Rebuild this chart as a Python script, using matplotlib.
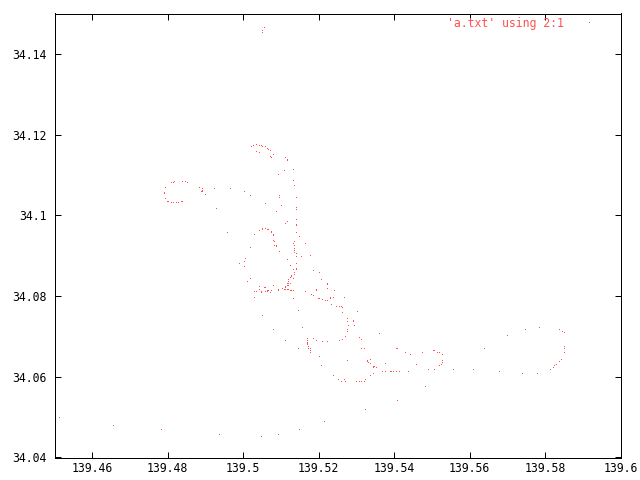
import matplotlib
matplotlib.use("Agg")
import matplotlib.pyplot as plt

lon_north = [139.5054,139.5051,139.5049,
 139.5022,139.5027,139.5033,139.5035,139.5041,139.5046,139.5051,139.5057,139.5062,139.5067,
 139.5070,139.5033,139.5041,139.5080,139.5072,139.5075,139.5110,139.5115,139.5117,139.5117,
 139.5131,139.5107,139.5091,139.5133,139.5136,139.4924,139.4966,139.5001,139.4890,139.4887,
 139.4892,139.4900,139.5019,139.5094,139.5094,139.5141,139.5057,139.5099,139.5139,139.5139,
 139.4929,139.5086,139.5141,139.5115,139.5112,139.5141,139.5141,139.5051,139.5049,139.5043,
 139.5059,139.5062,139.5067,139.5075,139.5075,139.4958,139.5141,139.5078,139.5078,139.5030,
 139.5149,139.5080,139.5083,139.5136,139.5131,139.5165,139.5083,139.5086,139.5086,139.5136,
 139.5019,139.5136,139.5136,139.5096,139.5136,139.5139,139.5178,139.5139,139.5152,139.5004,
 139.5001,139.5115,139.4990,139.5139,139.5125,139.5001,139.5133,139.5141,139.5141,139.5184,
 139.5200,139.5136,139.5136,139.5128,139.5128,139.5123,139.5131,139.5019,139.5120,139.5205]
lat_north = [34.1464,34.1456,34.1452,
 34.1169,34.1171,34.1174,34.1174,34.1171,34.1171,34.1169,34.1169,34.1164,34.1161,
 34.1159,34.1156,34.1154,34.1149,34.1144,34.1142,34.1142,34.1137,34.1137,34.1134,
 34.1112,34.1109,34.1099,34.1084,34.1072,34.1065,34.1065,34.1057,34.1060,34.1057,
 34.1057,34.1050,34.1047,34.1047,34.1042,34.1042,34.1027,34.1022,34.1018,34.1013,
 34.1015,34.1008,34.0988,34.0983,34.0978,34.0975,34.0973,34.0965,34.0963,34.0960,
 34.0965,34.0963,34.0963,34.0958,34.0956,34.0956,34.0956,34.0951,34.0948,34.0951,
 34.0946,34.0936,34.0933,34.0933,34.0928,34.0928,34.0923,34.0923,34.0921,34.0923,
 34.0918,34.0916,34.0911,34.0908,34.0906,34.0903,34.0898,34.0896,34.0896,34.0891,
 34.0884,34.0889,34.0879,34.0879,34.0874,34.0871,34.0864,34.0866,34.0864,34.0861,
 34.0856,34.0856,34.0851,34.0849,34.0846,34.0844,34.0841,34.0841,34.0839,34.0839]

lon_mid = [139.5009,139.5120,139.5117,139.5120,139.5123,139.5221,139.5223,139.5120,139.5078,139.5115,
 139.5043,139.5054,139.5057,139.5112,139.5110,139.5223,139.5102,139.5104,139.5043,139.5091,
 139.5091,139.5107,139.5110,139.5117,139.5120,139.5192,139.5194,139.5242,139.5125,139.5128,
 139.5131,139.5030,139.5035,139.5046,139.5046,139.5059,139.5064,139.5064,139.5067,139.5070,
 139.5075,139.5163,139.5181,139.5184,139.5186,139.5030,139.5133,139.5197,139.5200,139.5229,
 139.5231,139.5239,139.5266,139.5210,139.5218,139.5223,139.5234,139.5245,139.5255,139.5258,
 139.5263,139.5144,139.5303,139.5261,139.5051,139.5274,139.5276,139.5290,139.5290,139.5279,
 139.5295,139.5157,139.5276,139.5078,139.5274,139.5359,139.5271,139.5308,139.5311,139.5168,
 139.5184,139.5168,139.5192,139.5261,139.5255,139.5112,139.5210,139.5221,139.5170,139.5170,
 139.5170,139.5173,139.5173,139.5176,139.5176,139.5178,139.5144]
lat_mid = [34.0834,34.0834,34.0829,34.0829,34.0829,34.0829,34.0827,34.0824,34.0824,34.0824,
 34.0822,34.0819,34.0819,34.0822,34.0819,34.0817,34.0817,34.0817,34.0814,34.0814,
 34.0812,34.0814,34.0814,34.0814,34.0814,34.0814,34.0812,34.0812,34.0812,34.0812,
 34.0812,34.0809,34.0809,34.0809,34.0807,34.0809,34.0812,34.0809,34.0812,34.0807,
 34.0812,34.0809,34.0802,34.0799,34.0799,34.0794,34.0792,34.0792,34.0792,34.0794,
 34.0792,34.0794,34.0794,34.0789,34.0787,34.0787,34.0779,34.0772,34.0774,34.0772,
 34.0770,34.0762,34.0760,34.0757,34.0750,34.0742,34.0735,34.0737,34.0735,34.0727,
 34.0727,34.0720,34.0717,34.0717,34.0710,34.0705,34.0698,34.0695,34.0690,34.0693,
 34.0693,34.0688,34.0688,34.0690,34.0688,34.0688,34.0685,34.0685,34.0683,34.0680,
 34.0678,34.0673,34.0670,34.0668,34.0663,34.0660,34.0668]

lon_south = [139.5311,139.5319,139.5404,139.5409,139.5428,139.5430,139.5202,139.5276,139.5327,139.5329,
 139.5332,139.5335,139.5335,139.5375,139.5205,139.5345,139.5348,139.5345,139.5351,139.5369,
 139.5375,139.5388,139.5393,139.5398,139.5404,139.5412,139.5414,139.5438,139.5345,139.5343,
 139.5337,139.5237,139.5250,139.5258,139.5266,139.5271,139.5298,139.5308,139.5311,139.5319,
 139.5324]
lat_south = [34.0668,34.0668,34.0668,34.0668,34.0660,34.0658,34.0650,34.0638,34.0638,34.0636,
 34.0633,34.0631,34.0641,34.0631,34.0626,34.0623,34.0623,34.0621,34.0621,34.0613,
 34.0613,34.0613,34.0613,34.0611,34.0611,34.0611,34.0611,34.0611,34.0608,34.0606,
 34.0601,34.0601,34.0591,34.0588,34.0591,34.0588,34.0586,34.0586,34.0586,34.0588,
 34.0591]

lon_east = [139.5698,139.5746,139.5785,139.5838,139.5846,139.5849,139.5849,139.5849,139.5849,139.5841,
 139.5836,139.5830,139.5825,139.5820,139.5812,139.5780,139.5738,139.5679,139.5637,139.5610,
 139.5557,139.5443,139.5475,139.5502,139.5507,139.5515,139.5518,139.5528,139.5528,139.5526,
 139.5523,139.5520,139.5507,139.5491,139.5459,139.5481]
lat_east = [34.0700,34.0715,34.0720,34.0717,34.0710,34.0708,34.0673,34.0668,34.0660,34.0641,
 34.0636,34.0628,34.0626,34.0621,34.0618,34.0608,34.0608,34.0611,34.0668,34.0618,
 34.0618,34.0653,34.0660,34.0663,34.0663,34.0660,34.0660,34.0653,34.0638,34.0633,
 34.0628,34.0626,34.0618,34.0616,34.0628,34.0574]

lon_west = [139.4810,139.4815,139.4818,139.4837,139.4845,139.4852,139.4794,139.4882,139.4789,139.4789,
 139.4794,139.4799,139.4802,139.4810,139.4815,139.4823,139.4826,139.4834,139.4837,139.4890]
lat_west = [34.1080,34.1080,34.1082,34.1082,34.1082,34.1080,34.1067,34.1067,34.1055,34.1052,
 34.1040,34.1032,34.1032,34.1030,34.1030,34.1030,34.1030,34.1032,34.1032,34.1065]

lon_low = [139.4513,139.4656,139.4781,139.4935,139.5046,139.5091,139.5147,139.5213,139.5322,139.5409]
lat_low = [34.0497,34.0477,34.0467,34.0455,34.0450,34.0455,34.0469,34.0489,34.0517,34.0539]

lon = lon_north + lon_mid + lon_south + lon_east + lon_west + lon_low
lat = lat_north + lat_mid + lat_south + lat_east + lat_west + lat_low

x_ticks = [139.46, 139.48, 139.5, 139.52, 139.54, 139.56, 139.58, 139.6]
x_labels = ["139.46", "139.48", "139.5", "139.52", "139.54", "139.56", "139.58", "139.6"]
y_ticks = [34.04, 34.06, 34.08, 34.1, 34.12, 34.14]
y_labels = ["34.04", "34.06", "34.08", "34.1", "34.12", "34.14"]
series_label = "'a.txt' using 2:1"

RED = "#ff5050"
W, H = 640, 480
plt.rcParams["font.family"] = ["DejaVu Sans Mono"]
fig = plt.figure(figsize=(6.4, 4.8), dpi=100)
ax = fig.add_axes([54.5 / W, 22.5 / H, 566 / W, 444 / H])
ax.plot(lon, lat, linestyle="none", marker=",", color=RED, label=series_label)
ax.set_xlim(139.45, 139.6)
ax.set_ylim(34.04, 34.15)
ax.set_xticks(x_ticks, x_labels)
ax.set_yticks(y_ticks, y_labels)
ax.tick_params(direction="in", length=4.3, width=0.72, top=True, right=True,
               labelsize=8.3, color="black")
ax.tick_params(axis="x", pad=3.6)
ax.tick_params(axis="y", pad=5.7)
for s in ax.spines.values():
    s.set_linewidth(0.72)
leg = ax.legend(loc="upper right", bbox_to_anchor=(552.5 / 566, 1.0 + 3 / 444), frameon=False,
                markerfirst=False, fontsize=8.3, labelcolor=RED, borderpad=0.25,
                borderaxespad=0.3, handlelength=2.0, handletextpad=1.2, numpoints=1)
fig.savefig("out.png", dpi=100)
